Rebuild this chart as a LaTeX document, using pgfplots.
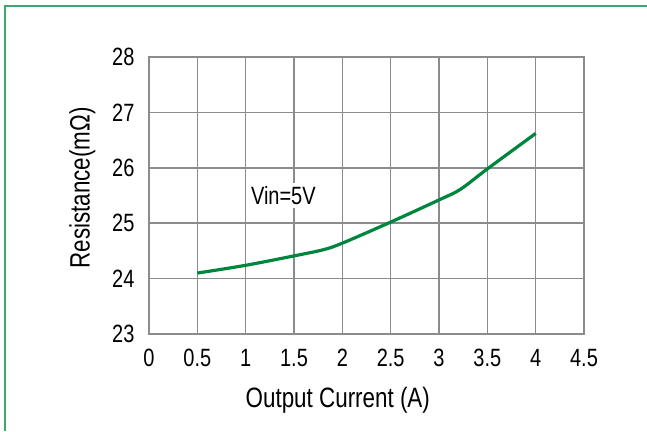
\documentclass[border=0pt]{standalone}
\usepackage{fontspec}
\setmainfont{Liberation Sans}[FakeStretch=0.8]
\usepackage{pgfplots}
\pgfplotsset{compat=1.18}
\definecolor{framegreen}{RGB}{60,170,110}
\definecolor{curvegreen}{RGB}{0,133,62}
\definecolor{gridgray}{RGB}{140,140,142}
\begin{document}
\begin{tikzpicture}
\useasboundingbox (0pt,0pt) rectangle (647pt,431pt);
\draw[framegreen, line width=1.3pt] (5pt,0pt) -- (5pt,425pt) -- (647pt,425pt);
\begin{axis}[
  at={(149pt,97pt)}, anchor=south west,
  scale only axis, width=435pt, height=277pt,
  xmin=0, xmax=4.5, ymin=23, ymax=28,
  xtick={0,0.5,...,4.5}, ytick={23,24,...,28},
  xticklabels={0,0.5,1,1.5,2,2.5,3,3.5,4,4.5},
  major tick length=0pt,
  grid=major,
  grid style={gridgray, line width=1.6pt},
  axis line style={gridgray, line width=1.6pt},
  /pgf/number format/assume math mode=true,
  tick label style={font=\fontsize{25}{29}\selectfont},
  xticklabel style={yshift=-12pt},
  yticklabel style={xshift=-11pt},
  xlabel={Output Current (A)},
  ylabel={Resistance(mΩ)},
  label style={font=\fontsize{28}{33}\selectfont},
  xlabel style={at={(axis description cs:0.434,0)}, anchor=north, yshift=-50pt},
  ylabel style={at={(axis description cs:0,0.527)}, anchor=south, yshift=50pt},
  clip=false,
]
\addplot[curvegreen, line width=3.2pt, smooth, tension=0.55] coordinates {
  (0.5,24.10) (1,24.24) (1.5,24.41) (1.8,24.52) (2,24.64) (2.5,25.02)
  (3,25.42) (3.22,25.61) (3.5,25.98) (4,26.62)
};
\node[fill=white, inner sep=3pt, font=\fontsize{25}{29}\selectfont] at (axis cs:1.39,25.5) {Vin=5V};
\end{axis}
\end{tikzpicture}
\end{document}
